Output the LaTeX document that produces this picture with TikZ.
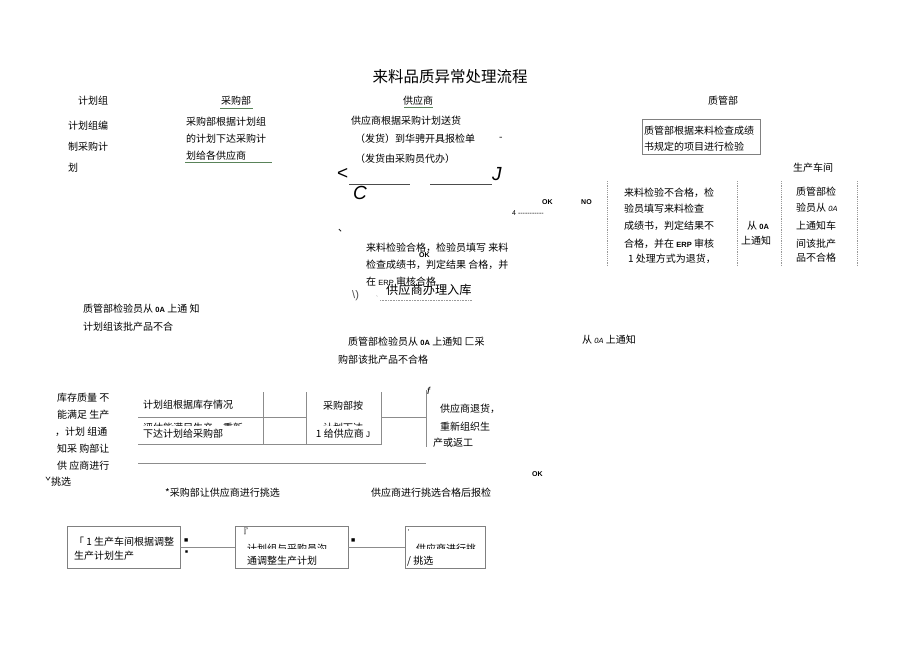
\documentclass[tikz,border=0pt]{standalone}
\usepackage{fontspec}
\newfontfamily\cjk{Noto Sans CJK SC}
\newfontfamily\cjki[FakeSlant=0.2]{Noto Sans CJK SC}
\newfontfamily\lat{Liberation Sans}
\begin{document}
\begin{tikzpicture}[x=1pt,y=-1pt,
  txt/.style={anchor=west,inner sep=0,font=\cjk\fontsize{10}{12}\selectfont},
  hdr/.style={anchor=center,inner sep=0,font=\cjk\fontsize{10}{12}\selectfont},
  ln/.style={draw=black!45,line width=0.6pt},
  gln/.style={draw=black!45!green!30!gray,line width=0.6pt},
  dl/.style={draw=black!40,line width=0.6pt,dash pattern=on 1.2pt off 1pt},
  okt/.style={anchor=west,inner sep=0,font=\lat\bfseries\fontsize{7}{8}\selectfont},
  bigl/.style={anchor=west,inner sep=0,font=\lat\itshape\fontsize{19}{20}\selectfont},
  boxx/.style={draw=black!50,line width=0.8pt,inner sep=0}]
\useasboundingbox[fill=white] (0,0) rectangle (920,650);

% title
\node[inner sep=0,font=\cjk\fontsize{15.5}{18}\selectfont] (title) at (450,77) {来料品质异常处理流程};

% headers
\node[hdr] (h1) at (93,101) {计划组};
\node[hdr] (h2) at (236,101) {采购部};
\draw[gln] (220,108) -- (253,108);
\node[hdr] (h3) at (418,101) {供应商};
\draw[gln] (404,107) -- (433,107);
\node[hdr] (h4) at (723,101) {质管部};

% plan group
\node[txt] (p1) at (68,126) {计划组编};
\node[txt] (p2) at (68,147) {制采购计};
\node[txt] (p3) at (68,168) {划};

% purchasing
\node[txt] (c1) at (186,122) {采购部根据计划组};
\node[txt] (c2) at (186,139) {的计划下达采购计};
\node[txt] (c3) at (186,156) {划给各供应商};
\draw[gln] (185,162) -- (272,162);

% supplier
\node[txt] (s1) at (351,121) {供应商根据采购计划送货};
\node[txt] (s2) at (355,139) {（发货）到华骋开具报检单};
\node[txt] (s3) at (499,139) {-};
\node[txt] (s4) at (355,159) {（发货由采购员代办）};
\node[anchor=west,inner sep=0,font=\lat\fontsize{19}{20}\selectfont] (lt) at (337,174) {<};
\coordinate (la) at (349,184);
\coordinate (lb) at (410,184);
\coordinate (lc) at (430,184);
\coordinate (ld) at (492,184);
\draw[draw=black!70,line width=0.9pt] (la) -- (lb);
\draw[draw=black!70,line width=0.9pt] (lc) -- (ld);
\node[bigl] (jj) at (492,174) {J};
\node[bigl] (cc) at (353,193) {C};

\node[okt] (ok1) at (542,202) {OK};
\node[okt] (no1) at (581,202) {NO};
\node[anchor=west,inner sep=0,font=\lat\fontsize{7}{8}\selectfont] (four) at (512,213) {4 -----------};

% QC box
\node[boxx,minimum width=118pt,minimum height=35pt] (qbox) at (701,137) {};
\node[txt] (q1) at (644,131) {质管部根据来料检查成绩};
\node[txt] (q2) at (644,147) {书规定的项目进行检验};

\node[hdr] (h5) at (813,168) {生产车间};

% dashed columns
\foreach \xx/\nm in {607/da,737/db,781/dc,857/dd}{
  \coordinate (\nm1) at (\xx,181);
  \coordinate (\nm2) at (\xx,266);
  \draw[dl] (\nm1) -- (\nm2);
}
\node[txt] (n1) at (624,193) {来料检验不合格，检};
\node[txt] (n2) at (624,209) {验员填写来料检查};
\node[txt] (n3) at (624,226) {成绩书，判定结果不};
\node[txt] (n4) at (624,244) {合格，并在 {\lat\bfseries\fontsize{7.5}{8}\selectfont ERP} 审核};
\node[txt] (n5) at (628,259) {1 处理方式为退货，};
\node[txt] (m1) at (747,226) {从 {\lat\bfseries\fontsize{7.5}{8}\selectfont 0A}};
\node[txt] (m2) at (741,241) {上通知};
\node[txt] (w1) at (796,192) {质管部检};
\node[txt] (w2) at (796,208) {验员从 {\lat\itshape\fontsize{7.5}{8}\selectfont 0A}};
\node[txt] (w3) at (796,226) {上通知车};
\node[txt] (w4) at (796,244) {间该批产};
\node[txt] (w5) at (796,258) {品不合格};

% OK branch
\node[txt] (tk) at (338,231) {、};
\node[txt] (k1) at (366,248) {来料检验合格，检验员填写 来料};
\node[okt] (ok2) at (419,255) {OK};
\node[txt] (k2) at (366,265) {检查成绩书，判定结果 合格，并};
\node[txt] (k3) at (366,282) {在 {\lat\fontsize{7.5}{8}\selectfont ERP} 审核合格};
\node[anchor=west,inner sep=0,font=\cjk\fontsize{12.2}{14}\selectfont] (k4) at (386,290) {供应商办理入库};
\node[anchor=west,inner sep=0,font=\lat\fontsize{11}{12}\selectfont,text=black!70] (uu) at (352,296) {\textbackslash)};
\coordinate (dota) at (380,300);
\coordinate (dotb) at (472,300);
\draw[draw=black!40,line width=0.5pt,dash pattern=on 0.8pt off 0.8pt] (dota) -- (dotb);
\node[anchor=west,inner sep=0,font=\lat\fontsize{6}{7}\selectfont,text=black!60] (tk2) at (376,298) {`};

% notices
\node[txt] (r1) at (83,309) {质管部检验员从 {\lat\bfseries\fontsize{7.5}{8}\selectfont 0A} 上通 知};
\node[txt] (r2) at (83,327) {计划组该批产品不合};
\node[txt] (r3) at (348,342) {质管部检验员从 {\lat\bfseries\fontsize{7.5}{8}\selectfont 0A} 上通知 匚采};
\node[txt] (r4) at (338,360) {购部该批产品不合格};
\node[txt] (r5) at (582,340) {从 {\lat\itshape\fontsize{7.5}{8}\selectfont 0A} 上通知};

% left column
\node[txt] (l1) at (57,398) {库存质量 不};
\node[txt] (l2) at (57,415) {能满足 生产};
\node[txt] (l3) at (55,432) {，计划 组通};
\node[txt] (l4) at (57,449) {知采 购部让};
\node[txt] (l5) at (57,466) {供 应商进行};
\node[txt] (l6) at (45,482) {ˇ挑选};

% middle table
\coordinate (ta) at (138,417);
\coordinate (tb) at (306,417);
\coordinate (tc) at (138,444);
\coordinate (td) at (306,444);
\coordinate (te) at (263,392);
\coordinate (tf) at (263,444);
\draw[ln] (ta) -- (tb);
\draw[ln] (tc) -- (td);
\draw[ln] (te) -- (tf);
\node[txt] (g1) at (143,405) {计划组根据库存情况};
\begin{scope}
  \clip (140,419) rectangle (300,425.5);
  \node[txt] (g2) at (143,428) {评估能满足生产，重新};
\end{scope}
\node[txt] (g3) at (143,434) {下达计划给采购部};

\coordinate (ba) at (306,392);
\coordinate (bb) at (306,444);
\coordinate (bc) at (381,444);
\coordinate (bd) at (381,392);
\draw[ln] (ba) -- (bb) -- (bc) -- (bd);
\node[hdr] (b1) at (343,406) {采购部按};
\begin{scope}
  \clip (310,419) rectangle (378,425.5);
  \node[hdr] (b2) at (343,428) {计划下达};
\end{scope}
\node[hdr] (b3) at (343,434) {1 给供应商 {\lat\fontsize{8}{9}\selectfont J}};

\coordinate (ra) at (381,417);
\coordinate (rb) at (426,417);
\draw[ln] (ra) -- (rb);
\coordinate (va) at (426,390);
\coordinate (vb) at (426,447);
\draw[ln] (va) -- (vb);
\node[anchor=west,inner sep=0,font=\lat\itshape\fontsize{10}{11}\selectfont] (ff) at (427,391) {f};
\node[txt] (e1) at (440,409) {供应商退货，};
\node[txt] (e2) at (440,427) {重新组织生};
\node[txt] (e3) at (433,443) {产或返工};

\coordinate (hl1) at (138,463);
\coordinate (hl2) at (426,463);
\draw[ln] (hl1) -- (hl2);
\node[okt] (ok3) at (532,474) {OK};

\node[txt] (x1) at (165,493) {*采购部让供应商进行挑选};
\node[txt] (x2) at (371,493) {供应商进行挑选合格后报检};

% bottom boxes
\node[boxx,minimum width=113pt,minimum height=42pt] (bx1) at (123.5,547) {};
\node[boxx,minimum width=113pt,minimum height=42pt] (bx2) at (291.5,547) {};
\node[boxx,minimum width=80pt,minimum height=42pt] (bx3) at (445,547) {};
\draw[ln] (bx1.east) -- (bx2.west);
\draw[ln] (bx2.east) -- (bx3.west);
\node[txt] (y1) at (74,542) {「 1 生产车间根据调整};
\node[txt] (y2) at (74,556) {生产计划生产};
\node[anchor=west,inner sep=0,font=\lat\fontsize{7}{8}\selectfont] (sq1) at (184,541) {■};
\node[anchor=west,inner sep=0,font=\lat\fontsize{5}{6}\selectfont] (sq2) at (185,552) {■};
\node[anchor=west,inner sep=0,font=\lat\fontsize{7}{8}\selectfont] (sq3) at (351,541) {■};
\node[txt] (z0) at (238,532) {『};
\begin{scope}
  \clip (240,543) rectangle (345,548.5);
  \node[txt] (z1) at (247,549) {计划组与采购员沟};
\end{scope}
\node[txt] (z2) at (247,561) {通调整生产计划};
\node[anchor=west,inner sep=0,font=\lat\fontsize{7}{8}\selectfont] (u0) at (408,532) {'};
\begin{scope}
  \clip (410,543) rectangle (482,548.5);
  \node[txt] (u1) at (416,549) {供应商进行挑};
\end{scope}
\node[txt] (u2) at (407,561) {/ 挑选};
\end{tikzpicture}
\end{document}
